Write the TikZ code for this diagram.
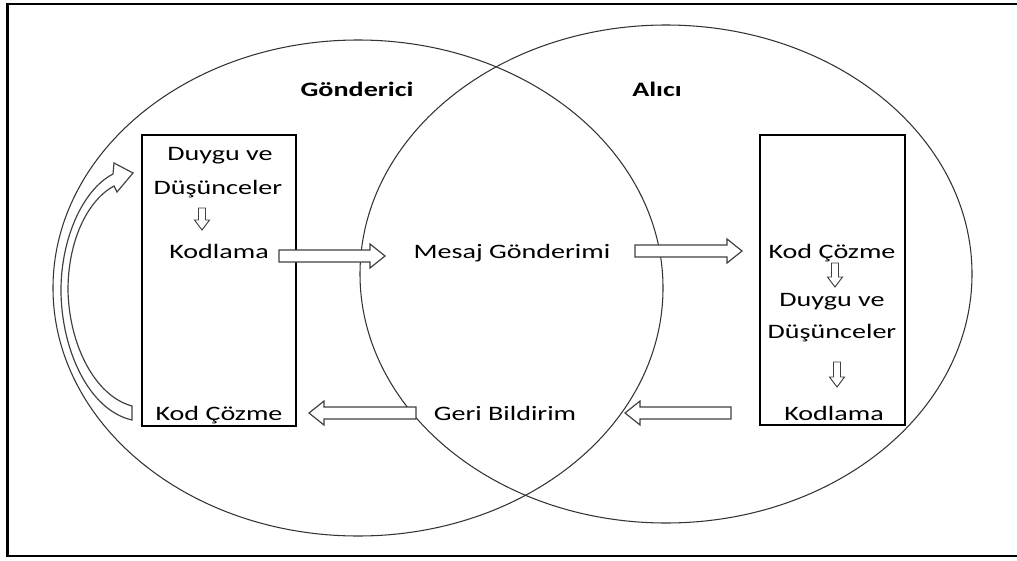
\documentclass[tikz,border=0pt]{standalone}
\usepackage{fontspec}
\setmainfont{Carlito}[FakeStretch=1.37]
\begin{document}
\begin{tikzpicture}[x=0.03cm,y=-0.03cm,
  txt/.style={anchor=base,inner sep=0pt,font=\fontsize{17.5}{21}\selectfont},
  ttl/.style={txt,font=\fontsize{17.5}{21}\selectfont\bfseries},
  venn/.style={draw=black!80,line width=0.9pt},
  stage/.style={draw=black,line width=1pt},
  blk/.style={draw=black!75,line width=1pt,fill=white,line join=miter}]
\useasboundingbox (0,0) rectangle (1017,560);
\fill[white] (0,0) rectangle (1017,560);
% frame (right side falls outside the page)
\draw[line width=2pt] (7.5,4) rectangle (1030,556);
% Venn ellipses
\draw[venn] (358,288) ellipse [x radius=305, y radius=248];
\draw[venn] (666,274) ellipse [x radius=306, y radius=249];
% boxes
\draw[stage] (142,135) rectangle (296,426);
\draw[stage] (760,135) rectangle (905,425);
% titles
\node[ttl] (gon) at (357,96) {Gönderici};
\node[ttl] (ali) at (657,96) {Alıcı};
% left box texts
\node[txt] (l1) at (220,160) {Duygu ve};
\node[txt] (l2) at (218,194) {Düşünceler};
\node[txt] (l3) at (219,258) {Kodlama};
\node[txt] (l4) at (219,420) {Kod Çözme};
% right box texts
\node[txt] (r1) at (832,258) {Kod Çözme};
\node[txt] (r2) at (832,306.5) {Duygu ve};
\node[txt] (r3) at (832,338) {Düşünceler};
\node[txt] (r4) at (834,420) {Kodlama};
% centre texts
\node[txt] (msg) at (512,258) {Mesaj Gönderimi};
\node[txt] (fb) at (505,420) {Geri Bildirim};
% horizontal block arrows: tail x, tip x, y, head length
\newcommand{\blkHarrow}[4]{%
  \draw[blk] (#1,#3-6) -- (#2-#4,#3-6) -- (#2-#4,#3-12) -- (#2,#3)
    -- (#2-#4,#3+12) -- (#2-#4,#3+6) -- (#1,#3+6) -- cycle;}
\blkHarrow{279}{385}{256}{15}
\blkHarrow{635}{742}{251}{15}
\blkHarrow{731}{625}{413}{-15}
\blkHarrow{416}{309}{413}{-15}
% vertical small block arrows: x, top y, tip y, head length
\newcommand{\blkVarrow}[4]{%
  \draw[blk,line width=0.8pt] (#1-3.5,#2) -- (#1+3.5,#2) -- (#1+3.5,#3-#4) -- (#1+7.5,#3-#4)
    -- (#1,#3) -- (#1-7.5,#3-#4) -- (#1-3.5,#3-#4) -- cycle;}
\blkVarrow{202}{208}{230}{10}
\blkVarrow{835}{263}{287}{10}
\blkVarrow{837}{362}{387}{10}
% curved feedback arrow (left)
\draw[blk] (132,406) .. controls (95,396) and (69,345) .. (68,290)
  .. controls (68,240) and (88,200) .. (114,186) -- (117,192) -- (133,173)
  -- (114,163) -- (113,174) .. controls (82,190) and (61,240) .. (61,290)
  .. controls (61,348) and (88,410) .. (132,420) -- cycle;
\end{tikzpicture}
\end{document}
